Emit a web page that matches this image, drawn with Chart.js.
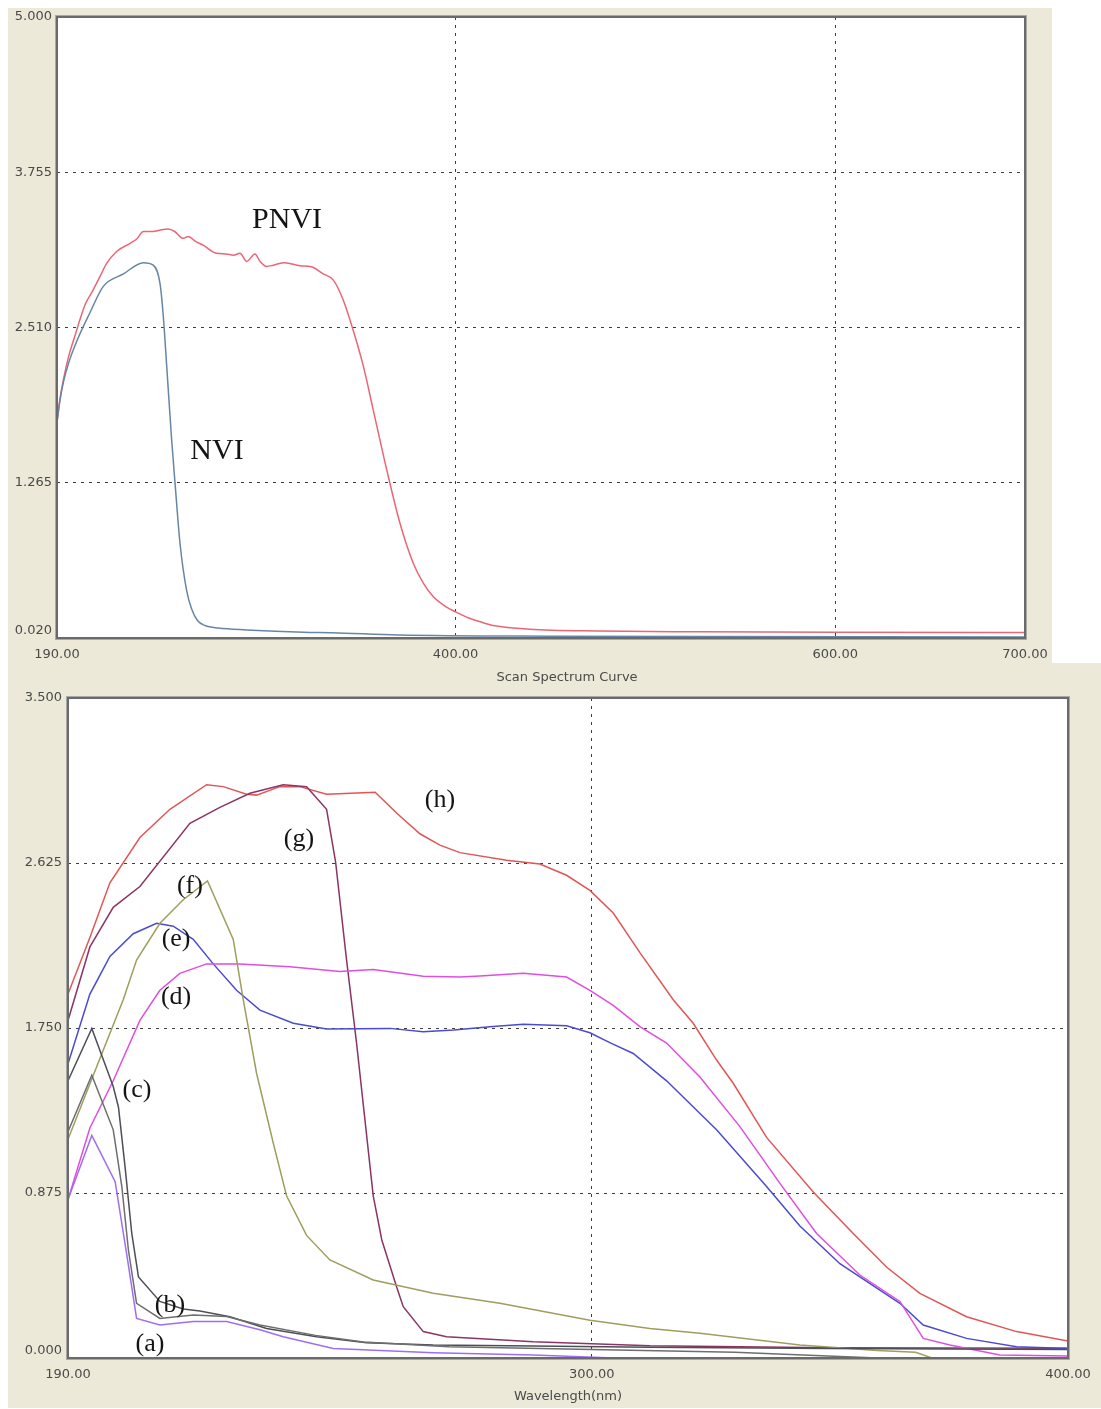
<!DOCTYPE html>
<html>
<head>
<meta charset="utf-8">
<script src="https://cdn.jsdelivr.net/npm/chart.js@4.4.1/dist/chart.umd.min.js"></script>
<style>
html,body{margin:0;padding:0;background:#ffffff;}
body{width:1101px;height:1409px;position:relative;overflow:hidden;}
.panel{position:absolute;background:#ece9d8;}
#p1{left:8px;top:8px;width:1044px;height:655px;}
#p2{left:8px;top:663px;width:1093px;height:745px;}
.wrap{position:absolute;}
#w1{left:8px;top:8px;width:1044px;height:682px;z-index:2;}
#w2{left:8px;top:663px;width:1093px;height:745px;z-index:1;}
canvas{display:block;}
</style>
</head>
<body>
<div class="panel" id="p1"></div>
<div class="panel" id="p2"></div>
<div class="wrap" id="w1"><canvas id="c1" width="1044" height="682"></canvas></div>
<div class="wrap" id="w2"><canvas id="c2" width="1093" height="745"></canvas></div>
<script>
// ---------------- TOP CHART DATA (Scan Spectrum Curve) ----------------
const topXTicks = [190, 400, 600, 700];
const topYTicks = [0.020, 1.265, 2.510, 3.755, 5.000];
const topXTitle = 'Scan Spectrum Curve';

const pnviNm  = [190, 191.5, 193.5, 196, 200, 202, 205, 209, 213, 216, 221.4, 228.5, 232, 235.5, 240.7, 244, 248.6, 252, 256.5, 259.2, 263, 267, 274, 279, 283, 286.4, 290, 294.3, 297, 300.5, 304, 310, 318, 324, 330.3, 335.6, 340.8, 346, 351.4, 356.6, 363.7, 370.7, 377.7, 383, 388.3, 395, 400, 407, 413, 420, 439, 476, 529, 600, 700];
const pnviAbs = [1.75, 1.93, 2.10, 2.27, 2.47, 2.57, 2.70, 2.81, 2.93, 3.02, 3.12, 3.185, 3.22, 3.28, 3.28, 3.29, 3.30, 3.28, 3.225, 3.24, 3.20, 3.17, 3.105, 3.10, 3.09, 3.105, 3.04, 3.10, 3.04, 3.00, 3.01, 3.03, 3.005, 2.997, 2.94, 2.89, 2.73, 2.49, 2.20, 1.85, 1.37, 0.94, 0.62, 0.46, 0.35, 0.27, 0.23, 0.18, 0.15, 0.12, 0.09, 0.076, 0.07, 0.066, 0.064];

const nviNm  = [190, 191.5, 193.5, 196, 200.4, 207.4, 214.4, 225, 235.5, 240.7, 244.3, 246, 247.8, 250.4, 252.2, 254.8, 258.3, 261, 264, 268, 275, 290, 320, 335, 370, 450, 700];
const nviAbs = [1.75, 1.92, 2.08, 2.22, 2.40, 2.63, 2.84, 2.94, 3.03, 3.01, 2.86, 2.60, 2.20, 1.61, 1.26, 0.78, 0.40, 0.25, 0.16, 0.12, 0.10, 0.085, 0.066, 0.062, 0.045, 0.035, 0.028];

// ---------------- BOTTOM CHART DATA (Wavelength) ----------------
const botXTicks = [190, 300, 400];
const botYTicks = [0.000, 0.875, 1.750, 2.625, 3.500];
const botXTitle = 'Wavelength(nm)';

const hNm  = [190, 194.6, 198.8, 205.1, 211.4, 219.1, 222.6, 227.5, 229.6, 234.5, 238.7, 244.3, 254.5, 259, 263.9, 268.1, 272.3, 282.1, 289.1, 294.7, 299.6, 304.5, 310.1, 317.1, 321.3, 326.2, 329.7, 336.7, 346.5, 354.9, 362, 368.9, 378.7, 389.2, 400];
const hAbs = [1.93, 2.23, 2.52, 2.76, 2.91, 3.04, 3.03, 2.99, 2.985, 3.03, 3.03, 2.99, 3.00, 2.89, 2.78, 2.72, 2.68, 2.64, 2.62, 2.56, 2.48, 2.36, 2.15, 1.90, 1.775, 1.58, 1.457, 1.17, 0.88, 0.66, 0.48, 0.343, 0.219, 0.14, 0.09];

const gNm  = [190, 194.6, 199.5, 205.1, 215.6, 221.9, 228.2, 235.2, 240.1, 244.3, 246.2, 248.5, 250.6, 254.1, 255.9, 259, 260.4, 264.6, 269.5, 287.7, 312.2, 350, 400];
const gAbs = [1.79, 2.18, 2.39, 2.50, 2.835, 2.92, 2.995, 3.04, 3.03, 2.91, 2.63, 2.11, 1.67, 0.86, 0.626, 0.378, 0.272, 0.14, 0.113, 0.086, 0.065, 0.055, 0.052];

const fNm  = [190, 195, 201.6, 204.4, 209.3, 214.2, 219.3, 224.7, 226.8, 229.6, 233.1, 235.9, 240.1, 245, 254.1, 266.7, 280.7, 299.6, 312.2, 322.7, 343.7, 360, 368, 372, 400];
const fAbs = [1.16, 1.48, 1.90, 2.11, 2.305, 2.43, 2.53, 2.22, 1.90, 1.51, 1.14, 0.86, 0.65, 0.52, 0.414, 0.343, 0.29, 0.20, 0.157, 0.131, 0.069, 0.04, 0.03, -0.005, -0.01];

const eNm  = [190, 194.6, 198.8, 203.7, 208.6, 212.1, 216.3, 220.5, 225.4, 230.3, 237.3, 244.3, 257.6, 264.6, 271, 278.6, 285.6, 294.7, 299.6, 304, 308.7, 315.7, 326.2, 336.7, 343.7, 352.1, 364.7, 369.6, 378.7, 389.2, 400];
const eAbs = [1.56, 1.93, 2.13, 2.25, 2.305, 2.29, 2.22, 2.09, 1.95, 1.845, 1.775, 1.745, 1.748, 1.73, 1.74, 1.757, 1.77, 1.762, 1.725, 1.67, 1.615, 1.47, 1.21, 0.91, 0.70, 0.50, 0.29, 0.175, 0.104, 0.06, 0.05];

const dNm  = [190, 194.6, 199.5, 205.1, 209.3, 213.5, 219.1, 226.1, 236.6, 247.1, 254.1, 264.6, 272.3, 276.5, 285.6, 294.7, 299.6, 304.5, 310.1, 315.7, 322.7, 331.1, 339.5, 347.2, 356.3, 364.7, 369.6, 375.2, 385.7, 400];
const dAbs = [0.84, 1.22, 1.47, 1.79, 1.95, 2.04, 2.09, 2.09, 2.075, 2.05, 2.06, 2.025, 2.02, 2.026, 2.04, 2.02, 1.95, 1.87, 1.757, 1.67, 1.49, 1.227, 0.926, 0.66, 0.44, 0.30, 0.104, 0.069, 0.016, 0.01];

const cNm  = [190, 195, 199.5, 200.6, 202, 203.4, 204.8, 209.3, 214.2, 217.7, 224, 231.7, 242.2, 252.7, 266.7, 287.7, 312.2, 350, 400];
const cAbs = [1.47, 1.748, 1.44, 1.33, 1.01, 0.66, 0.43, 0.30, 0.26, 0.249, 0.219, 0.157, 0.113, 0.081, 0.069, 0.064, 0.057, 0.05, 0.045];

const bNm  = [190, 195, 199.5, 201.3, 202.7, 204.4, 209.3, 216.3, 223.3, 230.3, 242, 252, 270, 300, 330, 360, 400];
const bAbs = [1.20, 1.50, 1.21, 0.91, 0.57, 0.29, 0.21, 0.228, 0.22, 0.175, 0.12, 0.085, 0.06, 0.045, 0.03, 0.0, -0.005];

const aNm  = [190, 195, 199.9, 202.3, 204.4, 209.3, 216.3, 223.3, 230.3, 235.2, 245.7, 266.7, 287.7, 312.2, 350, 400];
const aAbs = [0.84, 1.18, 0.935, 0.555, 0.21, 0.175, 0.193, 0.193, 0.15, 0.113, 0.051, 0.028, 0.016, -0.007, -0.01, -0.01];

// ---------------- helpers ----------------
const pts = (xs, ys) => xs.map((x, i) => ({x: x, y: ys[i]}));
const TICK_FONT = {family: '"DejaVu Sans", "Liberation Sans", sans-serif', size: 13};
const TICK_COLOR = '#4a4a4a';
const GRID_COLOR = '#3c3c3c';

function noPad(s) { s.paddingLeft = 0; s.paddingRight = 0; s.paddingTop = 0; s.paddingBottom = 0; }

function makeScales(xTicks, yTicks, dims, xTitle) {
  const xMin = xTicks[0], xMax = xTicks[xTicks.length - 1];
  const yMin = yTicks[0], yMax = yTicks[yTicks.length - 1];
  const edge = (v, lo, hi) => Math.abs(v - lo) < 1e-9 || Math.abs(v - hi) < 1e-9;
  const x = {
    type: 'linear', min: xMin, max: xMax,
    afterBuildTicks: s => { s.ticks = xTicks.map(v => ({value: v})); },
    afterFit: s => { s.height = dims.xH; noPad(s); },
    ticks: {
      autoSkip: false, maxRotation: 0, padding: 9,
      font: TICK_FONT, color: TICK_COLOR,
      callback: v => Number(v).toFixed(2)
    },
    grid: {
      drawTicks: false, lineWidth: 1,
      color: c => (c.tick && edge(c.tick.value, xMin, xMax)) ? 'rgba(0,0,0,0)' : GRID_COLOR
    },
    border: {display: false, dash: [3, 5]}
  };
  if (xTitle) {
    x.title = {display: true, text: xTitle, font: TICK_FONT, color: TICK_COLOR, padding: {top: 0, bottom: 4}};
  }
  const y = {
    type: 'linear', min: yMin, max: yMax,
    afterBuildTicks: s => { s.ticks = yTicks.map(v => ({value: v})); },
    afterFit: s => { s.width = dims.yW; noPad(s); },
    ticks: {
      autoSkip: false, padding: dims.yPad,
      font: TICK_FONT, color: TICK_COLOR,
      callback: v => Math.abs(v - yMin) < 1e-9 ? [Number(v).toFixed(3), ''] : Number(v).toFixed(3)
    },
    grid: {
      drawTicks: false, lineWidth: 1,
      color: c => (c.tick && edge(c.tick.value, yMin, yMax)) ? 'rgba(0,0,0,0)' : GRID_COLOR
    },
    border: {display: false, dash: [3, 5]}
  };
  return {x, y};
}

function framePlugin(notes, noteFont, extraTitle) {
  return {
    id: 'frameNotes',
    beforeDraw(chart) {
      const {ctx, chartArea: a} = chart;
      ctx.save();
      ctx.fillStyle = '#ffffff';
      ctx.fillRect(a.left, a.top, a.right - a.left, a.bottom - a.top);
      ctx.restore();
    },
    afterDraw(chart) {
      const {ctx, chartArea: a} = chart;
      const xs = chart.scales.x, ys = chart.scales.y;
      ctx.save();
      ctx.strokeStyle = '#a8a8a8';
      ctx.lineWidth = 1;
      ctx.strokeRect(a.left - 1.5, a.top - 1.5, a.right - a.left + 3, a.bottom - a.top + 3);
      ctx.strokeStyle = '#6a6a6a';
      ctx.lineWidth = 2;
      ctx.strokeRect(a.left, a.top, a.right - a.left, a.bottom - a.top);
      ctx.font = noteFont;
      ctx.fillStyle = '#141414';
      ctx.textAlign = 'center';
      ctx.textBaseline = 'middle';
      notes.forEach(n => ctx.fillText(n.text, xs.getPixelForValue(n.x), ys.getPixelForValue(n.y)));
      if (extraTitle) {
        ctx.font = '13px "DejaVu Sans", "Liberation Sans", sans-serif';
        ctx.fillStyle = TICK_COLOR;
        ctx.fillText(extraTitle.text, (a.left + a.right) / 2 + extraTitle.dx, a.bottom + extraTitle.dy);
      }
      ctx.restore();
    }
  };
}

const line = (label, xs, ys, color, smooth) => ({
  label: label, data: pts(xs, ys), borderColor: color, backgroundColor: color,
  borderWidth: 1.5, pointRadius: 0, fill: false,
  tension: 0, cubicInterpolationMode: smooth ? 'monotone' : 'default'
});

const commonOpts = {
  responsive: false, animation: false, devicePixelRatio: 1,
  plugins: {legend: {display: false}, tooltip: {enabled: false}}
};

// ---------------- TOP CHART ----------------
const topNotes = [
  {text: 'PNVI', x: 311.2, y: 3.37},
  {text: 'NVI', x: 274.3, y: 1.52}
];
new Chart(document.getElementById('c1'), {
  type: 'line',
  data: {datasets: [
    line('NVI', nviNm, nviAbs, '#6786a6', true),
    line('PNVI', pnviNm, pnviAbs, '#ea6676', true)
  ]},
  options: Object.assign({}, commonOpts, {
    layout: {padding: {left: 0, top: 9, right: 27, bottom: 0}},
    scales: makeScales(topXTicks, topYTicks, {xH: 52, yW: 49, yPad: 5}, null)
  }),
  plugins: [framePlugin(topNotes, '30px "Liberation Serif", "Times New Roman", serif', {text: topXTitle, dx: 26, dy: 40})]
});

// ---------------- BOTTOM CHART ----------------
const botNotes = [
  {text: '(h)', x: 268.1, y: 2.96},
  {text: '(g)', x: 238.5, y: 2.75},
  {text: '(f)', x: 215.6, y: 2.50},
  {text: '(e)', x: 212.7, y: 2.22},
  {text: '(d)', x: 212.7, y: 1.915},
  {text: '(c)', x: 204.5, y: 1.42},
  {text: '(b)', x: 211.4, y: 0.28},
  {text: '(a)', x: 207.2, y: 0.074}
];
new Chart(document.getElementById('c2'), {
  type: 'line',
  data: {datasets: [
    line('(a)', aNm, aAbs, '#9f6ef0', false),
    line('(b)', bNm, bAbs, '#6e6e6e', false),
    line('(c)', cNm, cAbs, '#4e4e58', false),
    line('(f)', fNm, fAbs, '#9e9e5e', false),
    line('(d)', dNm, dAbs, '#e04ee0', false),
    line('(e)', eNm, eAbs, '#4b4bd0', false),
    line('(g)', gNm, gAbs, '#8c3466', false),
    line('(h)', hNm, hAbs, '#e05656', false)
  ]},
  options: Object.assign({}, commonOpts, {
    layout: {padding: {left: 0, top: 35, right: 33, bottom: 0}},
    scales: makeScales(botXTicks, botYTicks, {xH: 50, yW: 60, yPad: 6}, botXTitle)
  }),
  plugins: [framePlugin(botNotes, '26px "Liberation Serif", "Times New Roman", serif', null)]
});
</script>
</body>
</html>
